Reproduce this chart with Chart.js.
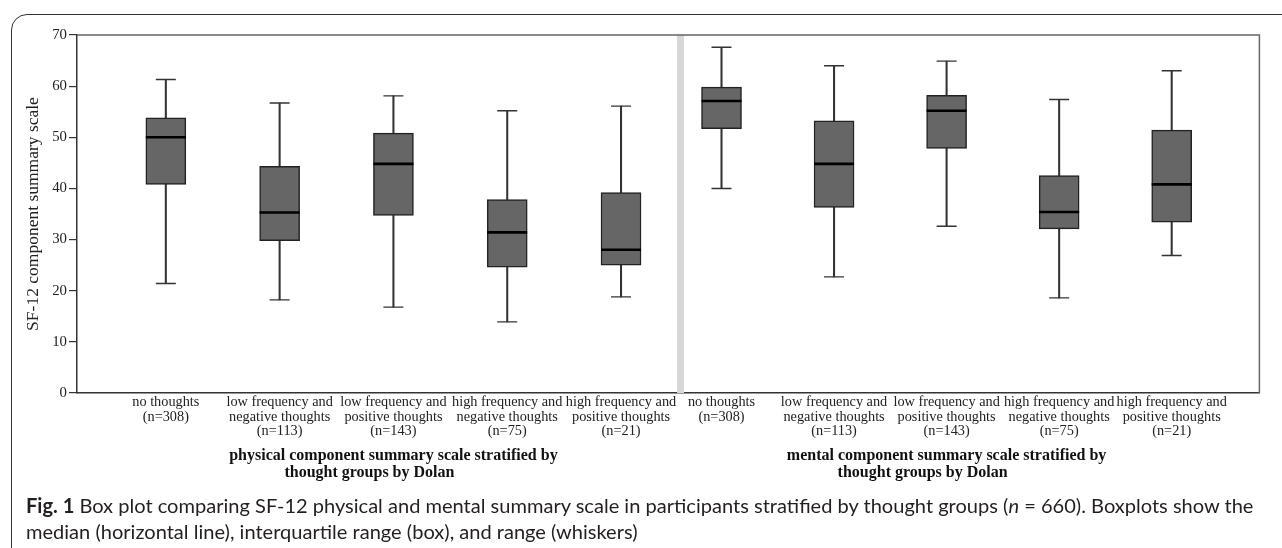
<!DOCTYPE html>
<html>
<head>
<meta charset="utf-8">
<script src="https://cdn.jsdelivr.net/npm/chart.js@4.4.1/dist/chart.umd.min.js"></script>
<style>
  html, body { margin: 0; padding: 0; background: #fff; }
  body { width: 1282px; height: 548px; overflow: hidden; position: relative; }
  #frame { position: absolute; left: 11px; top: 14px; width: 1400px; height: 560px;
           border: 1.5px solid #333; border-radius: 16px; box-sizing: border-box; }
  #wrap { position: absolute; left: 0; top: 0; width: 1282px; height: 548px; }
  .cap { position: absolute; left: 26px; white-space: nowrap;
         font-family: Lato, "Noto Sans", sans-serif;
         color: #231f20; font-size: 17px; line-height: 26px; }
  .cap b { font-weight: 700; }
</style>
</head>
<body>
<div id="frame"></div>
<div id="wrap"><canvas id="c" width="1282" height="548"></canvas></div>
<div class="cap" id="cap1" style="top:492px"><b>Fig. 1</b> Box plot comparing SF-12 physical and mental summary scale in participants stratified by thought groups (<i>n</i> = 660). Boxplots show the</div>
<div class="cap" id="cap2" style="top:518px">median (horizontal line), interquartile range (box), and range (whiskers)</div>
<script>
// ---- data ----
const groupLabels = [
  ["no thoughts", "(n=308)"],
  ["low frequency and", "negative thoughts", "(n=113)"],
  ["low frequency and", "positive thoughts", "(n=143)"],
  ["high frequency and", "negative thoughts", "(n=75)"],
  ["high frequency and", "positive thoughts", "(n=21)"]
];
const panelTitles = [
  ["physical component summary scale stratified by", "thought groups by Dolan"],
  ["mental component summary scale stratified by", "thought groups by Dolan"]
];
const yTicks = [0, 10, 20, 30, 40, 50, 60, 70];
const yTitle = "SF-12 component summary scale";

const physMin = [21.4, 18.2, 16.8, 13.9, 18.8];
const physQ1  = [40.8, 29.8, 34.7, 24.6, 25.0];
const physMed = [50.0, 35.3, 44.8, 31.4, 28.0];
const physQ3  = [53.8, 44.3, 50.8, 37.8, 39.2];
const physMax = [61.3, 56.7, 58.1, 55.2, 56.1];

const mentMin = [40.0, 22.7, 32.6, 18.6, 26.9];
const mentQ1  = [51.7, 36.3, 47.8, 32.1, 33.4];
const mentMed = [57.1, 44.8, 55.2, 35.4, 40.8];
const mentQ3  = [59.8, 53.2, 58.2, 42.5, 51.4];
const mentMax = [67.6, 64.0, 64.9, 57.4, 63.0];

// ---- layout (positions on the x scale) ----
const X_MIN = -0.7806, X_MAX = 9.6097;
const panelStart = [0, 4.883];
const panelStep = [1, 0.989];
const SEP = 4.523;
const pos = (p, i) => panelStart[p] + i * panelStep[p];

const panels = [
  {min: physMin, q1: physQ1, med: physMed, q3: physQ3, max: physMax},
  {min: mentMin, q1: mentQ1, med: mentMed, q3: mentQ3, max: mentMax}
];

const boxData = [], whiskerData = [], medData = [], capData = [], tickPos = [];
panels.forEach((pn, p) => {
  groupLabels.forEach((lab, i) => {
    const x = pos(p, i);
    tickPos.push(x);
    boxData.push({x, y: [pn.q1[i], pn.q3[i]]});
    whiskerData.push({x, y: [pn.min[i], pn.max[i]]});
    medData.push({x, y: pn.med[i]});
    capData.push({x, y: pn.min[i]});
    capData.push({x, y: pn.max[i]});
  });
});

const SERIF = "'Liberation Serif', 'Times New Roman', serif";

const decor = {
  id: 'decor',
  beforeDatasetsDraw(chart) {
    const {ctx, chartArea: a, scales: {x}} = chart;
    const sx = x.getPixelForValue(SEP);
    ctx.save();
    ctx.fillStyle = '#d7d7d7';
    ctx.fillRect(sx - 3.5, a.top, 7, a.bottom - a.top);
    ctx.restore();
  },
  afterDraw(chart) {
    const {ctx, chartArea: a, scales: {x}} = chart;
    ctx.save();
    ctx.strokeStyle = '#666';
    ctx.lineWidth = 1.5;
    ctx.beginPath();
    ctx.moveTo(a.left, a.top);
    ctx.lineTo(a.right, a.top);
    ctx.lineTo(a.right, a.bottom);
    ctx.stroke();
    ctx.fillStyle = '#111';
    ctx.font = "bold 16px " + SERIF;
    ctx.textAlign = 'center';
    ctx.textBaseline = 'middle';
    panelTitles.forEach((t, p) => {
      const cx = x.getPixelForValue(pos(p, 2));
      ctx.fillText(t[0], cx, 456);
      ctx.fillText(t[1], cx - 24, 473);
    });
    ctx.restore();
  }
};

new Chart(document.getElementById('c'), {
  type: 'bar',
  data: {
    datasets: [
      {type: 'scatter', data: medData, pointStyle: 'line', radius: 20, borderWidth: 2.6,
       borderColor: '#000', backgroundColor: '#000', showLine: false, order: 0},
      {type: 'scatter', data: capData, pointStyle: 'line', radius: 10, borderWidth: 1.4,
       borderColor: '#333', backgroundColor: '#333', showLine: false, order: 1},
      {type: 'bar', data: boxData, barThickness: 40, grouped: false, backgroundColor: '#666666',
       borderColor: '#222', borderWidth: 1.5, borderSkipped: false, order: 2},
      {type: 'bar', data: whiskerData, barThickness: 1.4, grouped: false, backgroundColor: '#333',
       borderWidth: 0, order: 3}
    ]
  },
  options: {
    responsive: false,
    animation: false,
    events: [],
    layout: {padding: {left: 0, right: 7, top: 35, bottom: 0}},
    plugins: {legend: {display: false}, tooltip: {enabled: false}},
    scales: {
      x: {
        type: 'linear', min: X_MIN, max: X_MAX, offset: false,
        afterFit: s => { s.height = 155; },
        afterBuildTicks: s => { s.ticks = tickPos.map(v => ({value: v})); },
        grid: {display: false, drawTicks: false},
        border: {display: true, color: '#333', width: 1.5},
        ticks: {
          autoSkip: false, maxRotation: 0, minRotation: 0, padding: 2,
          color: '#222', font: {family: SERIF, size: 14.3, lineHeight: 1.02},
          callback: (v, i) => groupLabels[i % groupLabels.length]
        }
      },
      y: {
        type: 'linear', min: 0, max: 70,
        afterFit: s => { s.width = 77; },
        afterBuildTicks: s => { s.ticks = yTicks.map(v => ({value: v})); },
        grid: {drawOnChartArea: false, drawTicks: true, tickLength: 8, color: '#333', lineWidth: 1.2},
        border: {display: true, color: '#333', width: 1.5},
        ticks: {padding: 2, color: '#222', font: {family: SERIF, size: 14.8}},
        title: {display: true, text: yTitle, color: '#222', font: {family: SERIF, size: 17.5},
                padding: {top: 22.5, bottom: 0}}
      }
    }
  },
  plugins: [decor]
});

// fit caption line 1 to the reference width
(function () {
  const c1 = document.getElementById('cap1'), c2 = document.getElementById('cap2');
  const target = 1228;
  const w = c1.scrollWidth;
  const fs = 17 * target / w;
  c1.style.fontSize = fs + 'px';
  c2.style.fontSize = fs + 'px';
})();
</script>
</body>
</html>
